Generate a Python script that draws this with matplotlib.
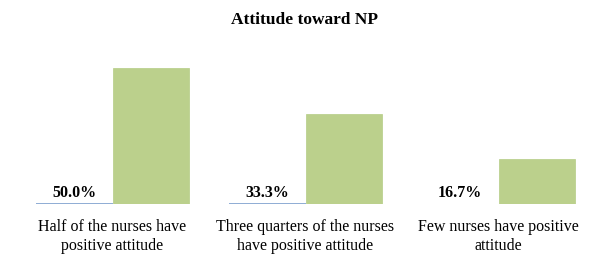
import matplotlib.pyplot as plt
import numpy as np

# Data
categories = ["Half of the nurses have\npositive attitude",
              "Three quarters of the nurses\nhave positive attitude",
              "Few nurses have positive\nattitude"]
blue_values = [0, 0, 0]
green_values = [50.0, 33.3, 16.7]
value_labels = ["50.0%", "33.3%", "16.7%"]
blue_edge_shown = [True, True, False]

plt.rcParams['font.family'] = ['Liberation Serif', 'DejaVu Serif']

fig = plt.figure(figsize=(6.09, 2.67), dpi=100)
ax = fig.add_axes([16 / 609, 63 / 267, 579 / 609, 163 / 267])

x = np.arange(len(categories))
w = 0.396

# blue series has zero height -> shows as a thin line at the baseline
for i in range(len(categories)):
    if blue_edge_shown[i]:
        ax.plot([x[i] - w, x[i]], [blue_values[i], blue_values[i]],
                color='#8EACD4', linewidth=1.4, solid_capstyle='butt')
    ax.text(x[i] - w / 2, blue_values[i] + 4.2, value_labels[i],
            ha='center', va='center', fontsize=11.5, fontweight='bold')

ax.bar(x + w / 2, green_values, w, color='#BBD08C', edgecolor='#B5CC85', linewidth=0.5)

ax.set_xlim(-0.5, len(categories) - 0.5)
ax.set_ylim(0, 60)
ax.axis('off')

for i, c in enumerate(categories):
    ax.text(x[i], -5.5, c, ha='center', va='top', fontsize=11.5, linespacing=1.25)

fig.text(0.5, 1 - 20 / 267, "Attitude toward NP", ha='center', va='center',
         fontsize=12.5, fontweight='bold')

fig.savefig("out.png", dpi=100)
